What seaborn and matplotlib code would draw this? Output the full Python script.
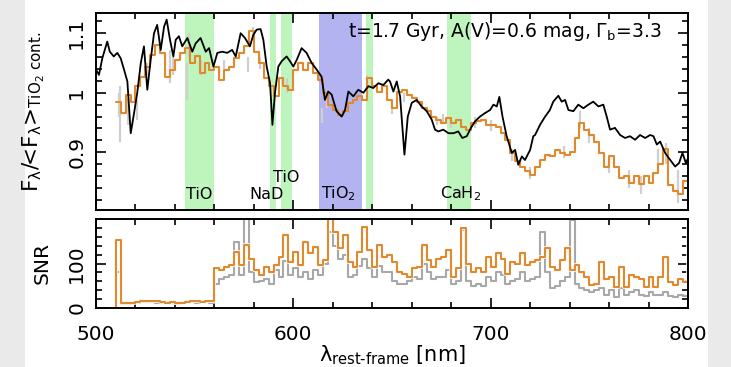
import numpy as np
import matplotlib
matplotlib.use("Agg")
import matplotlib.pyplot as plt
from matplotlib.patches import Rectangle
from matplotlib.ticker import MultipleLocator
import matplotlib.patheffects as pe
import seaborn as sns

# ---------------- data ----------------
# best-fit model spectrum (black)
MODEL_LAM = [500.0, 501.5, 503.2, 505.7, 507.0, 509.0, 510.8, 512.5, 514.2, 515.9, 517.6, 519.3,
             520.9, 522.7, 524.3, 526.0, 527.7, 529.4, 531.0, 532.8, 534.5, 535.8, 537.5, 539.2,
             540.4, 542.0, 543.7, 546.3, 548.8, 550.5, 553.0, 555.6, 557.3, 559.5, 561.5, 564.0,
             566.5, 569.0, 570.8, 573.3, 575.5, 578.0, 579.7, 581.4, 583.4, 584.8, 586.5, 588.2,
             589.4, 590.7, 592.4, 594.1, 596.6, 598.3, 600.0, 601.7, 604.2, 606.7, 609.3, 611.8,
             614.3, 616.0, 617.7, 619.4, 621.9, 624.5, 626.2, 627.9, 630.4, 632.9, 635.5, 638.0,
             640.5, 643.1, 645.6, 648.1, 649.0, 650.7, 652.4, 654.1, 656.3, 658.0, 660.0, 662.5,
             665.0, 667.6, 670.1, 671.8, 673.5, 676.0, 678.6, 681.1, 683.6, 685.6, 687.9, 690.0,
             692.1, 694.6, 697.2, 699.7, 701.4, 703.1, 704.4, 706.0, 708.1, 710.7, 712.4, 714.0,
             715.8, 717.4, 720.0, 721.6, 722.5, 725.0, 727.6, 730.0, 731.7, 734.3, 736.0, 737.7,
             739.4, 741.9, 744.4, 747.0, 749.5, 752.0, 754.6, 757.1, 758.8, 760.5, 763.0, 765.6,
             768.1, 770.6, 773.2, 775.7, 778.3, 780.8, 782.5, 784.2, 785.9, 788.4, 791.0, 793.5,
             795.5, 797.2, 798.9, 800.0]
MODEL_FLUX = [1.039, 1.030, 1.058, 1.086, 1.069, 1.061, 1.067, 1.058, 1.039, 1.019, 0.932, 0.966,
              1.000, 1.050, 1.078, 1.005, 1.055, 1.100, 1.114, 1.072, 1.111, 1.123, 1.089, 1.061,
              1.089, 1.095, 1.078, 1.092, 1.069, 1.083, 1.092, 1.069, 1.075, 1.044, 1.067, 1.069,
              1.067, 1.072, 1.061, 1.100, 1.092, 1.078, 1.097, 1.106, 1.107, 1.089, 1.044, 1.016,
              0.946, 1.000, 1.044, 1.053, 1.061, 1.053, 1.044, 1.055, 1.075, 1.067, 1.050, 1.039,
              1.027, 0.988, 1.002, 0.997, 0.969, 0.960, 0.971, 1.002, 0.994, 1.005, 1.000, 1.011,
              1.008, 1.016, 1.013, 1.022, 1.019, 1.002, 1.019, 0.994, 0.896, 0.960, 0.983, 0.988,
              0.977, 0.969, 0.955, 0.938, 0.935, 0.938, 0.932, 0.932, 0.935, 0.924, 0.927, 0.941,
              0.952, 0.960, 0.966, 0.971, 0.980, 0.977, 0.993, 0.960, 0.927, 0.899, 0.904, 0.879,
              0.893, 0.887, 0.904, 0.927, 0.929, 0.946, 0.960, 0.971, 0.985, 0.995, 0.985, 0.988,
              0.971, 0.969, 0.980, 0.974, 0.980, 0.985, 0.977, 0.980, 0.960, 0.938, 0.941, 0.929,
              0.924, 0.927, 0.921, 0.929, 0.924, 0.929, 0.927, 0.913, 0.918, 0.899, 0.887, 0.876,
              0.882, 0.899, 0.882, 0.890]

# binned observed spectrum (orange), 2.5 nm bins from 510 nm
BIN_START = 510.0
BIN_WIDTH = 2.5
OBS_FLUX = [0.985, 0.966, 0.997, 0.985, 1.011, 1.027, 1.044, 1.064, 1.081, 1.067,
            1.027, 1.039, 1.055, 1.067, 1.075, 1.050, 1.061, 1.033, 1.050, 1.039,
            1.044, 1.022, 1.039, 1.044, 1.058, 1.067, 1.078, 1.103, 1.069, 1.050,
            1.025, 1.011, 0.994, 1.025, 1.011, 1.005, 1.039, 1.050, 1.039, 1.050,
            1.033, 1.022, 1.000, 0.980, 0.971, 0.963, 0.969, 0.983, 0.988, 0.994,
            0.988, 1.025, 1.011, 1.002, 1.011, 0.988, 0.974, 1.002, 1.005, 0.997,
            0.991, 0.985, 0.974, 0.969, 0.960, 0.955, 0.949, 0.957, 0.949, 0.955,
            0.943, 0.938, 0.949, 0.952, 0.955, 0.946, 0.946, 0.943, 0.932, 0.921,
            0.899, 0.885, 0.876, 0.868, 0.862, 0.876, 0.887, 0.896, 0.893, 0.904,
            0.899, 0.896, 0.900, 0.924, 0.949, 0.938, 0.929, 0.918, 0.899, 0.876,
            0.893, 0.876, 0.857, 0.860, 0.849, 0.860, 0.846, 0.860, 0.849, 0.865,
            0.880, 0.905, 0.845, 0.835, 0.830, 0.852]

# error bars on the observed spectrum
ERR_LAM = [511.5, 512.3, 516.0, 520.6, 525.7, 537.5, 539.0, 546.0, 547.3, 553.0,
           565.0, 577.0, 579.5, 583.0, 597.0, 614.4, 617.0, 637.2, 650.0, 656.0,
           673.0, 676.0, 680.0, 692.0, 700.0, 711.0, 720.0, 737.0, 745.3, 750.0,
           760.0, 770.0, 776.0, 785.0, 789.0, 795.0]
ERR_LO = [0.960, 0.918, 0.945, 0.955, 1.030, 1.017, 1.030, 0.988, 1.060, 1.030,
          1.040, 1.035, 1.090, 1.040, 1.000, 0.950, 0.975, 1.000, 0.965, 0.985,
          0.945, 0.950, 0.940, 0.940, 0.935, 0.885, 0.855, 0.890, 0.940, 0.915,
          0.865, 0.840, 0.830, 0.870, 0.880, 0.815]
ERR_HI = [1.000, 1.011, 0.990, 0.988, 1.050, 1.072, 1.060, 1.050, 1.100, 1.055,
          1.055, 1.060, 1.110, 1.060, 1.025, 0.975, 0.990, 1.030, 0.985, 1.000,
          0.960, 0.965, 0.960, 0.960, 0.955, 0.905, 0.875, 0.910, 0.970, 0.940,
          0.890, 0.870, 0.860, 0.905, 0.915, 0.870]

# signal-to-noise per bin (same 2.5 nm bins)
SNR_BINNED = [153, 12, 12, 12, 14, 16, 16, 16, 15, 13, 12, 13, 12, 11, 14, 15, 15, 14, 15, 16,
              89, 85, 92, 96, 126, 96, 141, 111, 85, 74, 92, 81, 96, 115, 164, 104, 126, 96, 149, 123,
              138, 96, 108, 201, 170, 134, 164, 104, 92, 126, 183, 130, 92, 141, 115, 119, 104, 81, 77, 70,
              89, 92, 141, 108, 92, 111, 115, 130, 70, 89, 179, 100, 81, 89, 81, 115, 92, 123, 111, 77,
              104, 100, 123, 96, 104, 108, 115, 134, 92, 85, 108, 134, 85, 96, 81, 70, 51, 55, 104, 66,
              70, 47, 92, 47, 74, 70, 66, 47, 70, 47, 70, 115, 59, 51, 66, 59]
SNR_PIXEL = [81, 10, 10, 11, 12, 14, 13, 13, 12, 11, 12, 11, 10, 12, 13, 13, 12, 13, 14, 12,
             55, 65, 70, 74, 149, 74, 209, 80, 59, 60, 66, 55, 85, 70, 105, 75, 90, 70, 80, 65,
             85, 74, 100, 170, 140, 110, 120, 70, 75, 95, 110, 90, 70, 95, 80, 80, 60, 55, 55, 60,
             70, 65, 100, 80, 65, 70, 70, 85, 55, 60, 175, 60, 50, 55, 50, 70, 60, 80, 75, 55,
             60, 65, 80, 60, 65, 70, 171, 80, 45, 50, 60, 70, 198, 55, 45, 40, 35, 40, 45, 30,
             40, 25, 45, 30, 35, 40, 30, 28, 35, 30, 30, 35, 28, 25, 30, 28]

# spectral features
BAND_NAMES = ["TiO", "NaD", "TiO", "TiO$_2$", "", "CaH$_2$"]
BAND_LO = [545.0, 588.0, 594.0, 613.0, 637.0, 678.0]
BAND_HI = [560.0, 591.0, 599.5, 635.0, 640.5, 690.0]
BAND_KIND = ["mol", "atom", "mol", "ref", "mol", "mol"]
LABEL_LAM = [552.5, 586.5, 596.6, 622.7, 0.0, 684.5]
LABEL_Y = [0.822, 0.822, 0.850, 0.822, 0.0, 0.822]

FIT_TEXT = r"t=1.7 Gyr, A(V)=0.6 mag, $\Gamma_{\rm b}$=3.3"

# ---------------- styling ----------------
sns.set_style("ticks", {"axes.edgecolor": "black", "xtick.color": "black",
                        "ytick.color": "black", "text.color": "black",
                        "axes.labelcolor": "black"})
plt.rcParams["font.family"] = ["DejaVu Sans"]
plt.rcParams["mathtext.default"] = "regular"

ORANGE = "#e3892d"
GREEN = "#bdf5bd"
BLUE = "#b3b3f2"
halo = [pe.Stroke(linewidth=2.6, foreground="white"), pe.Normal()]

fig = plt.figure(figsize=(7.31, 3.67), dpi=100)
fig.patch.set_facecolor("#eaeaea")
# white slide area behind the panels
fig.add_artist(Rectangle((25 / 731, 0), (708 - 25) / 731, 1, transform=fig.transFigure,
                         facecolor="white", edgecolor="none", zorder=-10))

ax1 = fig.add_axes([96 / 731, 1 - 210 / 367, (688 - 96) / 731, 197 / 367], zorder=2)
ax2 = fig.add_axes([96 / 731, 1 - 308 / 367, (688 - 96) / 731, 89 / 367], sharex=ax1, zorder=2)

n_bins = len(OBS_FLUX)
edges = BIN_START + BIN_WIDTH * np.arange(n_bins + 1)

# --- top panel: spectra ---
for lo, hi, kind in zip(BAND_LO, BAND_HI, BAND_KIND):
    ax1.axvspan(lo, hi, color=BLUE if kind == "ref" else GREEN, lw=0, zorder=0)

ax1.vlines(ERR_LAM, ERR_LO, ERR_HI, color="#cfcfcf", lw=1.6, zorder=1)

sns.lineplot(x=edges, y=list(OBS_FLUX) + [OBS_FLUX[-1]], drawstyle="steps-post",
             color=ORANGE, lw=1.5, ax=ax1, estimator=None, sort=False, zorder=2)
sns.lineplot(x=MODEL_LAM, y=MODEL_FLUX, color="black", lw=1.3, ax=ax1,
             estimator=None, sort=False, zorder=3)

for name, lam, yv in zip(BAND_NAMES, LABEL_LAM, LABEL_Y):
    if name:
        ax1.text(lam, yv, name, ha="center", va="baseline", fontsize=11.5)

ax1.text(0.955, 0.905, FIT_TEXT, transform=ax1.transAxes, ha="right", va="center", fontsize=13.5)

ax1.set_ylim(0.803, 1.134)
ax1.yaxis.set_minor_locator(MultipleLocator(0.02))
ax1.set_yticks([0.9, 1.0, 1.1])
ax1.set_yticklabels(["0.9", "1", "1.1"], rotation=90, va="center")
ax1.set_ylabel(r"F$_\lambda$/<F$_\lambda$>$_{\rm TiO_2\ cont.}$", fontsize=15.5)
ax1.yaxis.set_label_coords(-0.083, 0.5)
ax1.tick_params(labelbottom=False)

# --- bottom panel: signal-to-noise ---
snr_x = [edges[0]] + list(edges)
sns.lineplot(x=snr_x, y=[0] + list(SNR_PIXEL) + [SNR_PIXEL[-1]], drawstyle="steps-post",
             color="#a8a8a8", lw=1.5, ax=ax2, estimator=None, sort=False)
sns.lineplot(x=snr_x + [edges[-1]], y=[0] + list(SNR_BINNED) + [SNR_BINNED[-1], 260],
             drawstyle="steps-post", color=ORANGE, lw=1.5, ax=ax2,
             estimator=None, sort=False)
ax2.lines[-1].set_path_effects(halo)

ax2.set_ylim(0, 200)
ax2.yaxis.set_minor_locator(MultipleLocator(20))
ax2.set_yticks([0, 100])
ax2.set_yticklabels(["0", "100"], rotation=90, va="center")
ax2.set_ylabel("SNR", fontsize=14.5)
ax2.yaxis.set_label_coords(-0.075, 0.5)
ax2.set_xlabel("$\\lambda_{\\rm rest\u2010frame}$ [nm]", fontsize=15, labelpad=0)

for ax in (ax1, ax2):
    ax.xaxis.set_minor_locator(MultipleLocator(20))
    ax.tick_params(which="both", direction="in", top=True, right=True, width=1.2, labelsize=14.5)
    ax.tick_params(which="major", length=7)
    ax.tick_params(which="minor", length=4)
    ax.tick_params(axis="y", pad=7)
    for sp in ax.spines.values():
        sp.set_linewidth(1.4)
        sp.set_visible(True)
    ax.set_facecolor("white")

ax2.set_xticks([500, 600, 700, 800])
ax2.set_xticklabels(["500", "600", "700", "800"])
ax2.tick_params(axis="x", pad=12)
ax1.set_xlim(500, 800)

fig.savefig("out.png", dpi=100, facecolor=fig.get_facecolor())
